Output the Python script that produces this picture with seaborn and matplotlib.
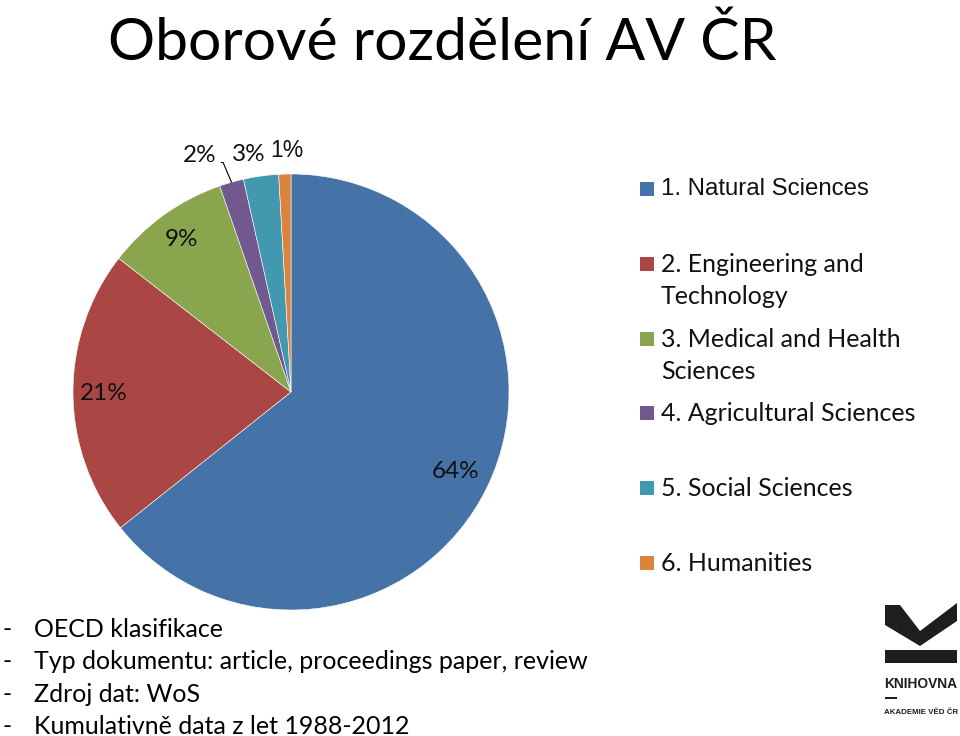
import numpy as np
import matplotlib
matplotlib.use("Agg")
import matplotlib.pyplot as plt
from matplotlib.patches import Rectangle, Polygon
import seaborn as sns

# ---------------- data ----------------
title = "Oborové rozdělení AV ČR"
categories = ["1. Natural Sciences", "2. Engineering and\nTechnology",
              "3. Medical and Health\nSciences", "4. Agricultural Sciences",
              "5. Social Sciences", "6. Humanities"]
shares = [64.3, 21.2, 9.2, 1.8, 2.6, 0.9]
colors_hex = ["#4572A7", "#AA4643", "#89A54E", "#71588F", "#4198AF", "#DB843D"]
notes = ["OECD klasifikace",
         "Typ dokumentu: article, proceedings paper, review",
         "Zdroj dat: WoS",
         "Kumulativně data z let 1988-2012"]

sns.set_theme(style="white")
plt.rcParams["font.family"] = ["Lato", "DejaVu Sans"]

W, H = 960, 736
fig = plt.figure(figsize=(W / 100, H / 100), dpi=100)
fig.patch.set_facecolor("white")

def fx(px):
    return px / W

def fy(py):
    return 1 - py / H

# ---------------- pie ----------------
cx, cy, R = 291, 392, 218
ax = fig.add_axes([fx(cx - R), fy(cy + R), 2 * R / W, 2 * R / H])
palette = sns.color_palette(colors_hex)
wedges, _ = ax.pie(shares, colors=palette, startangle=90, counterclock=False,
                   radius=1.0, wedgeprops=dict(edgecolor="white", linewidth=0.4))
ax.set_xlim(-1, 1)
ax.set_ylim(-1, 1)
ax.set_aspect("equal")
ax.axis("off")

# percent labels
inside_r = [0.84, 0.86, 0.86]
for i, w in enumerate(wedges):
    ang = np.deg2rad((w.theta1 + w.theta2) / 2)
    lab = f"{shares[i]:.0f}%"
    if i < 3:
        r = inside_r[i]
        ax.text(r * np.cos(ang), r * np.sin(ang), lab, ha="center", va="center",
                fontsize=17.5, color="#111111")
    else:
        px, py = np.cos(ang), np.sin(ang)
        offs = {3: (-22.8, 19.5), 4: (-8.9, 15.4), 5: (1.4, 17.3)}[i]
        fam = ["Liberation Sans"] if i == 5 else ["Lato"]
        fs = 16.5 if i == 5 else 17.5
        if i == 3:
            ax.annotate(lab, xy=(px, py), xytext=offs, textcoords="offset points",
                        ha="center", va="center", fontsize=fs, family=fam, color="#111111",
                        arrowprops=dict(arrowstyle="-", color="black", lw=0.8,
                                        relpos=(1.0, 0.15), shrinkA=1, shrinkB=0,
                                        connectionstyle="angle,angleA=0,angleB=113,rad=0"))
        else:
            ax.annotate(lab, xy=(px, py), xytext=offs, textcoords="offset points",
                        ha="center", va="center", fontsize=fs, family=fam, color="#111111")

# ---------------- title ----------------
fig.text(fx(108), fy(60), title, fontsize=42.4, ha="left", va="baseline", color="black")

# ---------------- legend ----------------
leg_top, leg_step = 189, 74.8
for i, lab in enumerate(categories):
    yc = leg_top + i * leg_step
    fig.patches.append(Rectangle((fx(640), fy(yc + 7)), 14 / W, 14 / H,
                                 transform=fig.transFigure, facecolor=colors_hex[i],
                                 edgecolor="none"))
    if i == 0:
        fig.text(fx(661), fy(yc), lab, fontsize=17.3, family=["Liberation Sans"],
                 ha="left", va="center", color="#111111")
    else:
        fig.text(fx(661), fy(yc - 11), lab, fontsize=18, ha="left", va="top",
                 color="#111111", linespacing=1.5)

# ---------------- notes ----------------
for j, t in enumerate(notes):
    yb = 637 + j * 32.3
    fig.text(fx(3), fy(yb), "-", fontsize=18, ha="left", va="baseline", color="black")
    fig.text(fx(34), fy(yb), t, fontsize=18, ha="left", va="baseline", color="black")

# ---------------- logo ----------------
def poly(pts):
    return Polygon([(fx(x), fy(y)) for x, y in pts], closed=True,
                   transform=fig.transFigure, facecolor="#1e1e1e", edgecolor="none")

fig.patches.append(poly([(885, 605), (900, 605), (920, 631), (957, 603),
                         (957, 621), (920, 646), (885, 625)]))
fig.patches.append(poly([(885, 650), (957, 650), (957, 663), (885, 663)]))
fig.text(fx(884), fy(684), "KNIHOVNA", fontsize=9.9, fontweight="bold",
         family=["Liberation Sans"], ha="left", va="center", color="#1e1e1e")
fig.patches.append(poly([(885, 697), (897, 697), (897, 698.5), (885, 698.5)]))
fig.text(fx(884), fy(713), "AKADEMIE VĚD ČR", fontsize=5.7, fontweight="bold",
         family=["Liberation Sans"], ha="left", va="center", color="#1e1e1e")

fig.savefig("out.png", dpi=100)
